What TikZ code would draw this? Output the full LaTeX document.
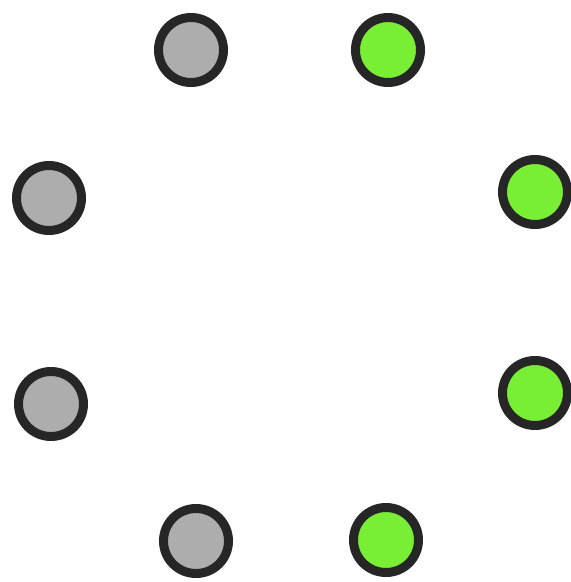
\documentclass[tikz,border=0pt]{standalone}
\begin{document}
\begin{tikzpicture}[x=1pt,y=-1pt,
  dot/.style={circle,draw=black!85,line width=9pt,minimum size=65pt,inner sep=0pt},
  off/.style={dot,fill=black!32},
  on/.style={dot,fill={rgb,255:red,120;green,238;blue,52}}]
\useasboundingbox[fill=white] (0,0) rectangle (571,582);
\node[off] (g1) at (191,50) {};
\node[on]  (n1) at (388,50) {};
\node[off] (g2) at (49,198) {};
\node[on]  (n2) at (535,192) {};
\node[off] (g3) at (51,404) {};
\node[on]  (n3) at (535,393) {};
\node[off] (g4) at (196,541) {};
\node[on]  (n4) at (386,540) {};
\end{tikzpicture}
\end{document}
